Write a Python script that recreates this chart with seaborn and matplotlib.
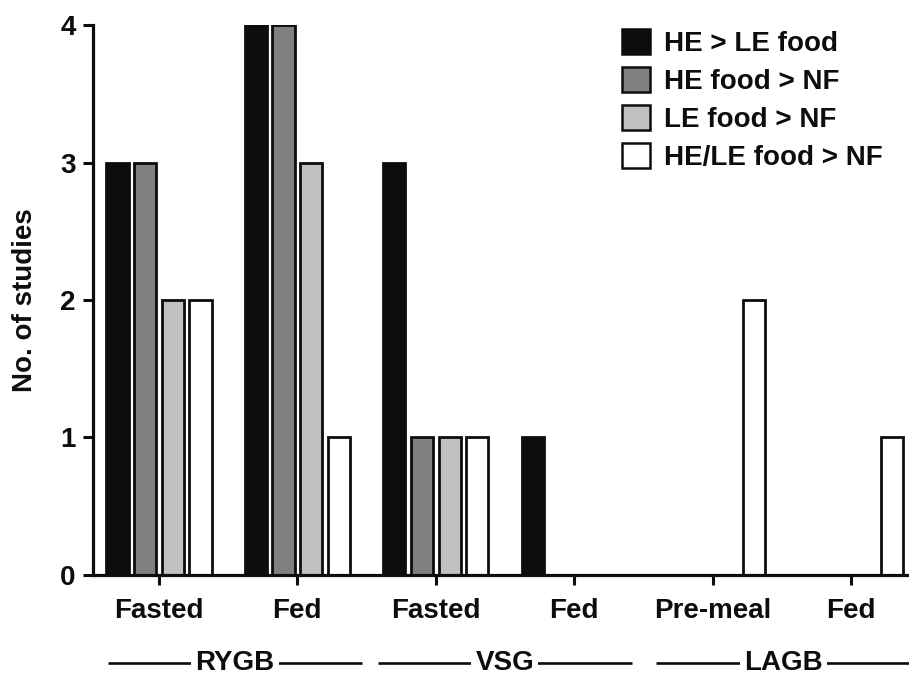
import matplotlib
matplotlib.use("Agg")
import matplotlib.pyplot as plt
import matplotlib.transforms as mtransforms
import numpy as np
import pandas as pd
import seaborn as sns
from matplotlib.patches import Patch

# data
surgery = ["RYGB", "RYGB", "VSG", "VSG", "LAGB", "LAGB"]
state = ["Fasted", "Fed", "Fasted", "Fed", "Pre-meal", "Fed"]
contrasts = ["HE > LE food", "HE food > NF", "LE food > NF", "HE/LE food > NF"]
he_gt_le = [3, 4, 3, 1, 0, 0]
he_gt_nf = [3, 4, 1, 0, 0, 0]
le_gt_nf = [2, 3, 1, 0, 0, 0]
hele_gt_nf = [2, 1, 1, 0, 2, 1]
surgery_groups = ["RYGB", "VSG", "LAGB"]

colors = ["#0d0d0d", "#808080", "#c0c0c0", "#ffffff"]

groups = [f"{s} {c}" for s, c in zip(surgery, state)]
rows = []
for name, vals in zip(contrasts, [he_gt_le, he_gt_nf, le_gt_nf, hele_gt_nf]):
    for g, v in zip(groups, vals):
        rows.append({"group": g, "contrast": name, "studies": v})
df = pd.DataFrame(rows)

sns.set_theme(style="ticks")
plt.rcParams["font.family"] = ["Liberation Sans", "DejaVu Sans"]
plt.rcParams["font.weight"] = "bold"
plt.rcParams["text.color"] = "#0d0d0d"
plt.rcParams["axes.labelcolor"] = "#0d0d0d"
plt.rcParams["xtick.color"] = "#0d0d0d"
plt.rcParams["ytick.color"] = "#0d0d0d"
fs = 20

fig = plt.figure(figsize=(9.09, 6.77), dpi=100)
ax = fig.add_axes([0.1023, 0.1507, 0.8977, 0.8123])

sns.barplot(data=df, x="group", y="studies", hue="contrast", order=groups,
            hue_order=contrasts, palette=colors, width=0.8, gap=0.2,
            edgecolor="#0d0d0d", linewidth=2.0, saturation=1, ax=ax,
            legend=False)

ax.set_xlim(-0.477, 5.42)
ax.set_ylim(0, 4)
ax.set_yticks([0, 1, 2, 3, 4])
ax.set_xticks(range(len(groups)))
ax.set_xticklabels(state, fontsize=fs, fontweight="bold", color="#0d0d0d")
ax.set_yticklabels([str(t) for t in [0, 1, 2, 3, 4]], fontsize=fs,
                   fontweight="bold", color="#0d0d0d")
ax.set_xlabel("")
ax.set_ylabel("No. of studies", fontsize=fs, fontweight="bold", labelpad=16,
              color="#0d0d0d")
for side in ["top", "right"]:
    ax.spines[side].set_visible(False)
for side in ["left", "bottom"]:
    ax.spines[side].set_linewidth(2.3)
    ax.spines[side].set_color("#0d0d0d")
ax.tick_params(axis="both", width=2.2, length=7.5, color="#0d0d0d", pad=5)
ax.tick_params(axis="x", pad=9)

# surgery labels under the groups
trans = mtransforms.blended_transform_factory(ax.transData, fig.transFigure)
centers = [0.55, 2.5, 4.51]
for name, c in zip(surgery_groups, centers):
    ax.plot([c - 0.92, c + 0.92], [0.021, 0.021], color="#0d0d0d", lw=1.9,
            transform=trans, clip_on=False, solid_capstyle="butt")
    ax.text(c, 0.021, name, transform=trans, ha="center", va="center",
            fontsize=fs, fontweight="bold", color="#0d0d0d",
            bbox=dict(facecolor="white", edgecolor="none", pad=3))

handles = [Patch(facecolor=col, edgecolor="#0d0d0d", linewidth=1.8) for col in colors]
fig.legend(handles, contrasts, loc="upper left", bbox_to_anchor=(622 / 909, 1 - 29 / 677),
           frameon=False, handlelength=1.0, handleheight=1.0,
           handletextpad=0.5, labelspacing=0.36, borderpad=0, borderaxespad=0,
           prop={"weight": "bold", "size": fs})

fig.savefig("out.png", dpi=100)
